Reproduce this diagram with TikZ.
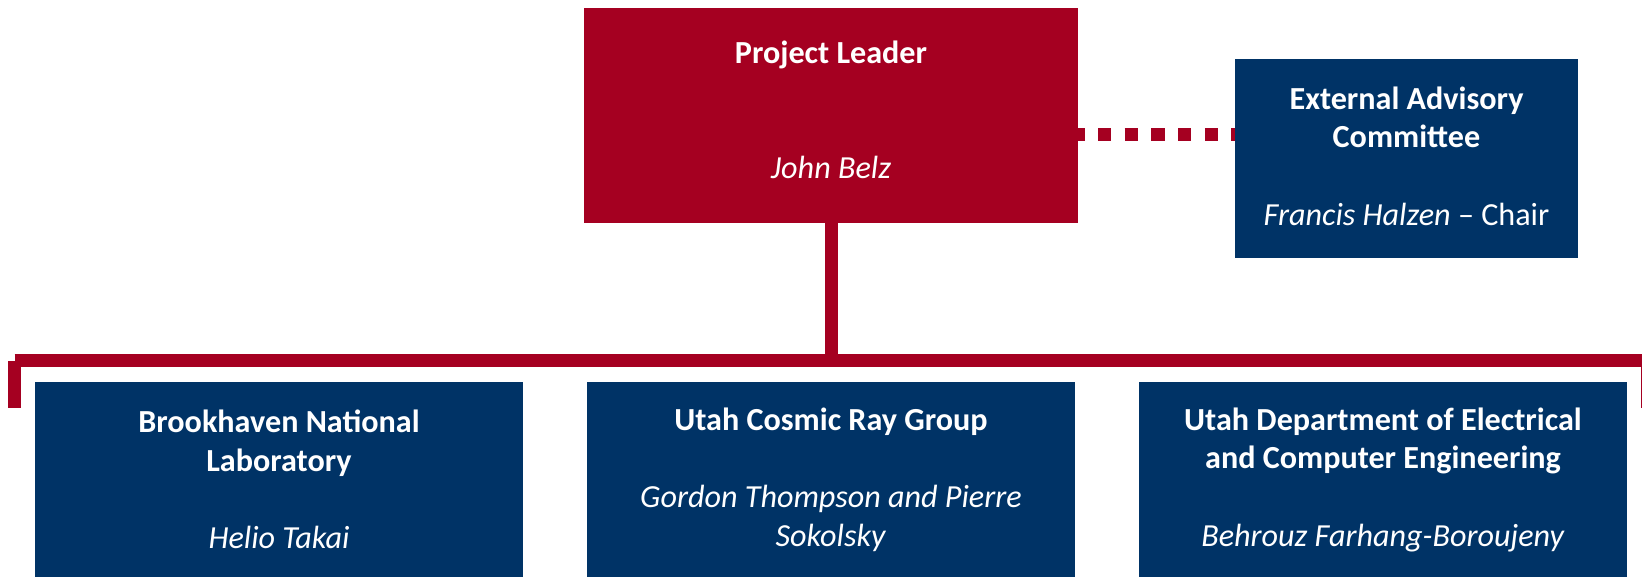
\documentclass[tikz,border=0pt]{standalone}
\usepackage{fontspec}
\setmainfont{Carlito}
\usetikzlibrary{positioning, calc}
\definecolor{uured}{RGB}{165, 0, 33}
\definecolor{uunavy}{RGB}{0, 51, 102}

\begin{document}
\begin{tikzpicture}[x=0.02cm, y=-0.02cm,
  orgbox/.style={fill=#1, text=white, align=center, inner sep=0pt,
    font=\fontsize{18.3}{22}\selectfont},
  leaderbox/.style={orgbox=uured, minimum width=9.88cm, minimum height=4.3cm, text depth=6.6pt},
  advisorbox/.style={orgbox=uunavy, minimum width=6.86cm, minimum height=3.98cm, text depth=3pt},
  groupbox/.style={orgbox=uunavy, anchor=north, minimum width=9.76cm, minimum height=3.89cm},
  linkline/.style={draw=uured, line width=0.26cm},
  advisory/.style={linkline, dash pattern=on 0.266cm off 0.268cm, dash phase=0.14cm}]
  \clip (0,0) rectangle (1642,577);

  % Top level
  \node[leaderbox] (leader) at (831,115.5)
    {\textbf{Project Leader}\\ \\ \\\textit{John Belz}};
  \node[advisorbox] (eac) at (1406.5,158.5)
    {\textbf{External Advisory}\\\textbf{Committee}\\ \\\textit{Francis Halzen} – Chair};

  % Groups
  \node[groupbox] (bnl) at (279,382)
    {\textbf{Brookhaven National}\\\textbf{Laboratory}\\ \\\textit{Helio Takai}};
  \node[groupbox] (ucr) at (831,382)
    {\textbf{Utah Cosmic Ray Group}\\ \\\textit{Gordon Thompson and Pierre}\\\textit{Sokolsky}};
  \node[groupbox] (ece) at (1383,382)
    {\textbf{Utah Department of Electrical}\\\textbf{and Computer Engineering}\\ \\\textit{Behrouz Farhang-Boroujeny}};

  % Connectors
  \coordinate (barL) at (14.5,360.5);
  \coordinate (barR) at (1647.5,360.5);
  \draw[advisory] (leader.east |- 0,135) -- (eac.west |- 0,135);
  \draw[linkline] (leader.south) -- (leader.south |- barL);
  \draw[linkline] (barL) -- (barR);
  \draw[linkline] (barL) -- ++(0,47.5);
  \draw[linkline] (barR) -- ++(0,47.5);
\end{tikzpicture}
\end{document}
